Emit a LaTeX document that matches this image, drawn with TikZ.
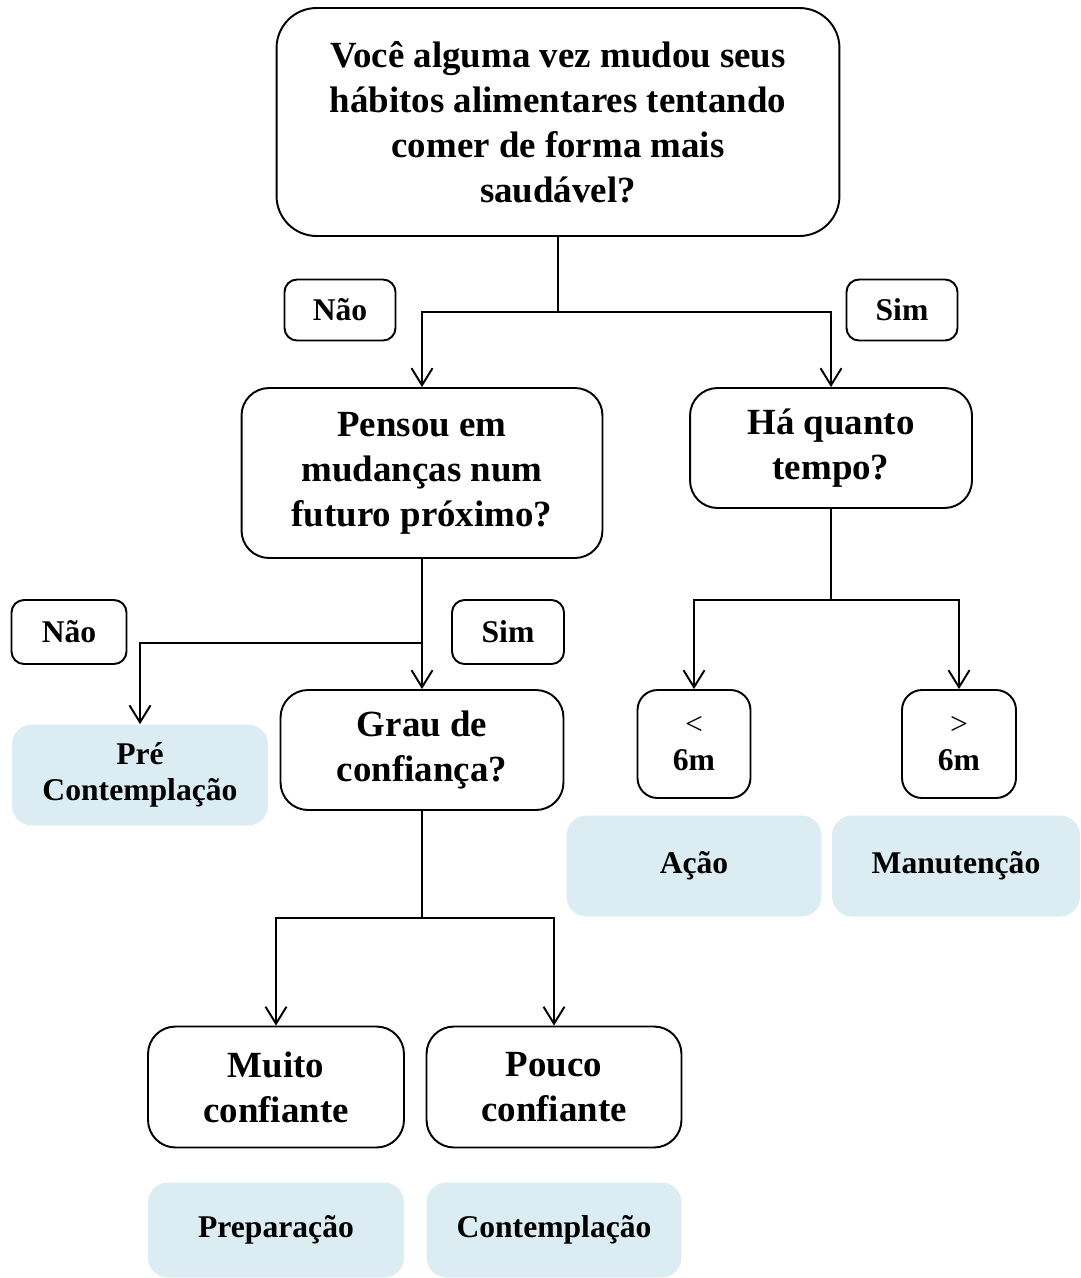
\documentclass[tikz,border=0pt]{standalone}
\usepackage{fontspec}
\setmainfont{Liberation Serif}
\usetikzlibrary{arrows.meta}
\definecolor{stagefill}{RGB}{219,236,242}
\newcommand{\bigtxt}{\fontsize{21}{25.6}\selectfont\bfseries}
\newcommand{\smalltxt}{\fontsize{18}{20.5}\selectfont\bfseries}

\begin{document}
\begin{tikzpicture}[
            x=0.02cm, y=-0.02cm,
            box/.style={draw,line width=1.1pt,rounded corners=0.55cm,align=center,inner sep=0pt,font=\bigtxt},
            tag/.style={draw,line width=1.1pt,rounded corners=0.25cm,align=center,inner sep=0pt,font=\smalltxt},
            stage/.style={fill=stagefill,rounded corners=0.4cm,align=center,inner sep=0pt,font=\smalltxt},
            arr/.style={line width=1.1pt,-{Straight Barb[length=3.4mm,width=4.2mm]}},
            link/.style={line width=1.1pt}
            ]
            \useasboundingbox (0,0) rectangle (1080,1278);
            \node[box,rounded corners=0.8cm,minimum width=11.26cm,minimum height=4.56cm] (habitos) at (558,122)
                {Você alguma vez mudou seus\\hábitos alimentares tentando\\comer de forma mais\\saudável?};
            \node[tag,minimum width=2.22cm,minimum height=1.22cm] (nao1) at (340,310) {Não};
            \node[tag,minimum width=2.22cm,minimum height=1.22cm] (sim1) at (902,310) {Sim};
            \node[box,minimum width=7.22cm,minimum height=3.4cm] (pensou) at (422,473)
                {Pensou em\\mudanças num\\futuro próximo?};
            \node[box,minimum width=5.64cm,minimum height=2.4cm] (tempo) at (831,448) {Há quanto\\tempo?};
            \node[tag,minimum width=2.3cm,minimum height=1.28cm] (nao2) at (69,632) {Não};
            \node[tag,minimum width=2.24cm,minimum height=1.28cm] (sim2) at (508,632) {Sim};
            \node[stage,minimum width=5.12cm,minimum height=2.02cm] (precont) at (140,775) {Pré\\Contemplação};
            \node[box,minimum width=5.66cm,minimum height=2.4cm] (grau) at (422,750) {Grau de\\confiança?};
            \node[tag,rounded corners=0.4cm,minimum width=2.26cm,minimum height=2.16cm] (menos) at (694,744)
                {{\mdseries <}\\6m};
            \node[tag,rounded corners=0.4cm,minimum width=2.28cm,minimum height=2.16cm] (mais) at (959,744)
                {{\mdseries >}\\6m};
            \node[stage,minimum width=5.1cm,minimum height=2.02cm] (acao) at (694,866) {Ação};
            \node[stage,minimum width=4.96cm,minimum height=2.02cm] (manut) at (956,866) {Manutenção};
            \node[box,minimum width=5.12cm,minimum height=2.42cm] (muito) at (276,1087) {Muito\\confiante};
            \node[box,minimum width=5.1cm,minimum height=2.42cm] (pouco) at (554,1087) {Pouco\\confiante};
            \node[stage,minimum width=5.12cm,minimum height=1.9cm] (prep) at (276,1230) {Preparação};
            \node[stage,minimum width=5.1cm,minimum height=1.9cm] (cont) at (554,1230) {Contemplação};

            \coordinate (j1) at (558,312);
            \coordinate (j2) at (422,643);
            \coordinate (j3) at (831,600);
            \coordinate (j4) at (422,918);
            \draw[link] (habitos.south) -- (j1);
            \draw[arr] (j1) -| (pensou.north);
            \draw[arr] (j1) -| (tempo.north);
            \draw[arr] (pensou.south) -- (grau.north);
            \draw[arr] (j2) -| (precont.north);
            \draw[link] (tempo.south) -- (j3);
            \draw[arr] (j3) -| (menos.north);
            \draw[arr] (j3) -| (mais.north);
            \draw[link] (grau.south) -- (j4);
            \draw[arr] (j4) -| (muito.north);
            \draw[arr] (j4) -| (pouco.north);
        \end{tikzpicture}
\end{document}
